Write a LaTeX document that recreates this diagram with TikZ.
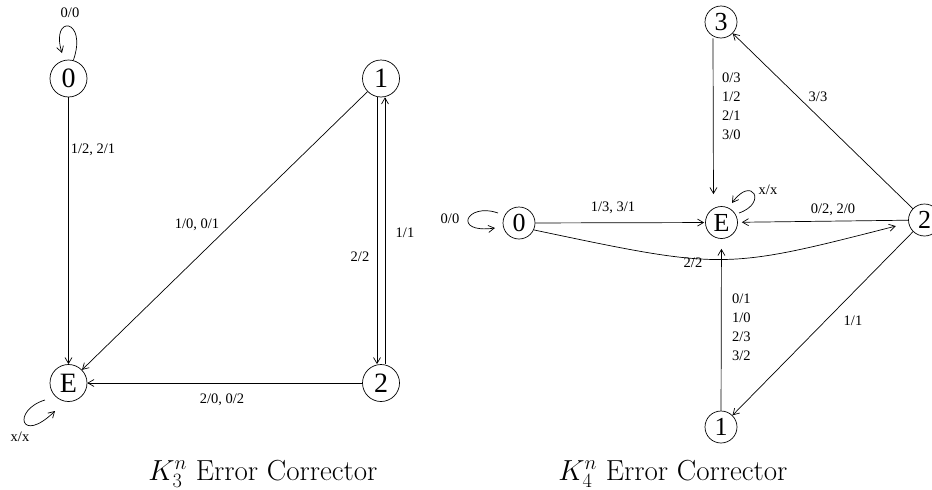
\documentclass[tikz,border=0pt]{standalone}
\usepackage{fix-cm}
\usepackage{fontspec}
\setmainfont{Liberation Serif}
\newfontfamily\lmfont{Latin Modern Roman}
\usetikzlibrary{arrows.meta}
\begin{document}
\begin{tikzpicture}[x=1pt,y=-1pt,
  st/.style={circle,draw,line width=0.7pt,minimum size=37pt,inner sep=0pt,font=\fontsize{28}{28}\selectfont},
  sts/.style={st,minimum size=32pt,font=\fontsize{26}{26}\selectfont},
  lbl/.style={font=\fontsize{14.5}{19}\selectfont,inner sep=0pt},
  conn/.style={line width=0.7pt,-{Straight Barb[length=6pt,width=7pt]}},
  captxt/.style={font=\lmfont\fontsize{29}{32}\selectfont,inner sep=0pt}]
\useasboundingbox (0,0) rectangle (932,490);
\clip (0,0) rectangle (932,490);

% ---------- left diagram ----------
\node[st] (l0) at (68.5,78.5) {0};
\node[st] (l1) at (381,78.5) {1};
\node[st] (lE) at (68.5,383) {E};
\node[st] (l2) at (381,383) {2};

\draw[conn] (l0.75) .. controls (88,18) and (50,14) .. (62,53);
\node[lbl] (t00) at (70,13) {0/0};

\draw[conn] (l0) -- (lE);
\node[lbl] (t12) at (93,150) {1/2, 2/1};

\draw[conn] (l1) -- (lE);
\node[lbl] (t10) at (197,225) {1/0, 0/1};

\draw[conn] ([xshift=-4pt]l1.south) -- ([xshift=-4pt]l2.north);
\draw[conn] ([xshift=4pt]l2.north) -- ([xshift=4pt]l1.south);
\node[lbl] (t22) at (360,257) {2/2};
\node[lbl] (t11) at (405,233) {1/1};

\draw[conn] (l2) -- (lE);
\node[lbl] (t20) at (222,400) {2/0, 0/2};

\draw[conn] (45,400) .. controls (12,410) and (20,445) .. (55,411);
\node[lbl] (txx) at (20,437) {x/x};

\node[captxt,anchor=base] (cap1) at (263,480) {$K_3^n$ Error Corrector};

% ---------- right diagram ----------
\node[sts] (r3) at (721,22) {3};
\node[sts] (rE) at (721.5,222.5) {E};
\node[sts] (r0) at (519,223) {0};
\node[sts] (r2) at (924.5,220) {2};
\node[sts] (r1) at (721,427) {1};

\draw[conn] (498,213) .. controls (466,202) and (452,234) .. (495,228);
\node[lbl] (u00) at (450,219) {0/0};

\draw[conn,shorten >=1pt] (r0) -- (rE);
\node[lbl] (u13) at (613,208) {1/3, 3/1};

\draw[conn,shorten >=12pt] ([xshift=-8pt]r3.south) -- ([xshift=-8pt]rE.north);
\node[lbl,align=left,anchor=north west] (u03) at (722,73) {0/3\\1/2\\2/1\\3/0};

\draw[conn] (739,213) .. controls (768,203) and (752,175) .. (732,203);
\node[lbl] (uxx) at (768,190) {x/x};

\draw[conn,shorten >=4pt] (r2) -- (rE);
\node[lbl] (u02) at (833,210) {0/2, 2/0};

\draw[conn,shorten >=13pt] (r0.-25) .. controls (724,270) .. (r2.190);
\node[lbl] (u22) at (693,263) {2/2};

\draw[conn,shorten >=10pt] (r1) -- (rE);
\node[lbl,align=left,anchor=north west] (u01) at (732,294) {0/1\\1/0\\2/3\\3/2};

\draw[conn] (r2) -- (r3);
\node[lbl] (u33) at (818,97) {3/3};

\draw[conn] (r2) -- (r1);
\node[lbl] (u11) at (853,321) {1/1};

\node[captxt,anchor=base] (cap2) at (673,480) {$K_4^n$ Error Corrector};
\end{tikzpicture}
\end{document}
